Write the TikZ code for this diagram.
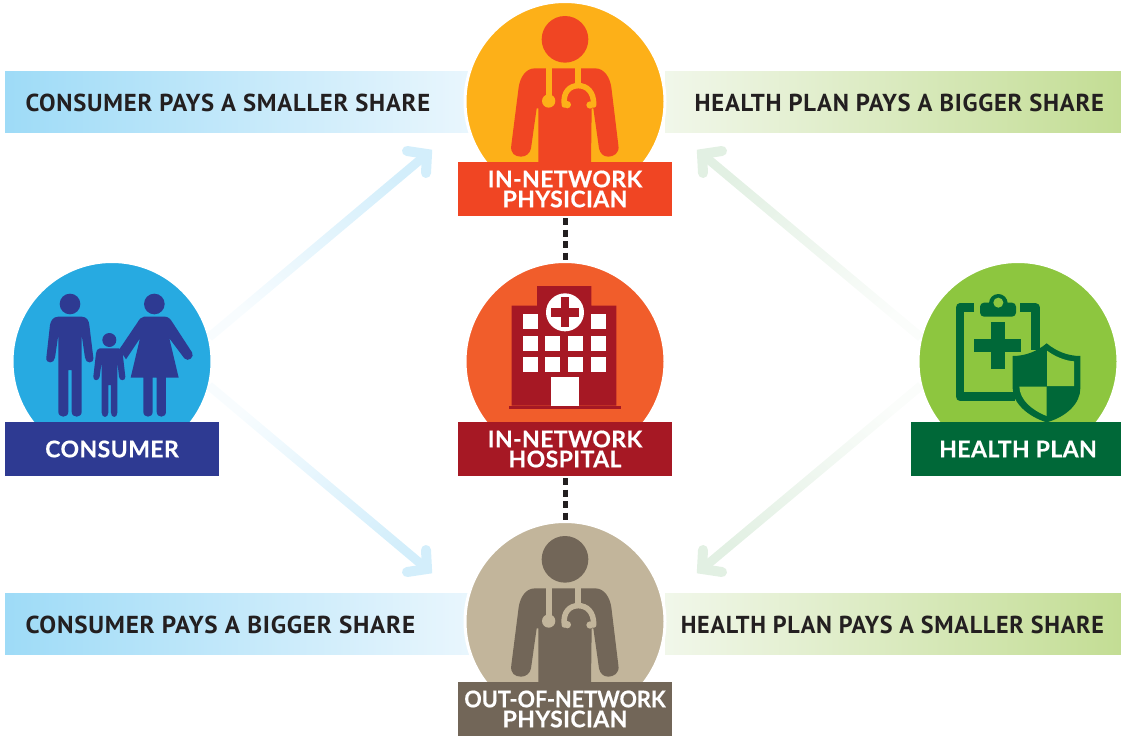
\documentclass[tikz,border=0pt]{standalone}
\usepackage{fontspec}
\usepackage{tikz}
\usetikzlibrary{fadings}
\newfontfamily\labelfont[LetterSpace=1.8,BoldFeatures={FakeBold=0.4}]{Lato}
\newfontfamily\tightfont[BoldFeatures={FakeBold=0.4}]{Lato}
\newfontfamily\barfont[LetterSpace=3]{PT Sans}
\definecolor{blueL}{HTML}{9EDBF7}
\definecolor{blueR}{HTML}{E9F6FD}
\definecolor{greenL}{HTML}{F1F7EA}
\definecolor{greenR}{HTML}{C3DD94}
\definecolor{arrowBlue}{HTML}{D3EEFB}
\definecolor{arrowGreen}{HTML}{E2F0E3}
\definecolor{barText}{HTML}{231F20}
\definecolor{physBg}{HTML}{FDB018}
\definecolor{physFg}{HTML}{F04523}
\definecolor{hospBg}{HTML}{F15D2B}
\definecolor{hospFg}{HTML}{A61824}
\definecolor{outBg}{HTML}{C2B59B}
\definecolor{outFg}{HTML}{726658}
\definecolor{consBg}{HTML}{27AAE1}
\definecolor{consFg}{HTML}{2E3A92}
\definecolor{planBg}{HTML}{8DC63F}
\definecolor{planFg}{HTML}{006838}
\tikzfading[name=fadeUL,top color=transparent!85,bottom color=transparent!0,shading angle=135]
\tikzfading[name=fadeLL,top color=transparent!85,bottom color=transparent!0,shading angle=45]
\tikzfading[name=fadeUR,top color=transparent!85,bottom color=transparent!0,shading angle=225]
\tikzfading[name=fadeLR,top color=transparent!85,bottom color=transparent!0,shading angle=315]
\tikzset{
  x=1pt,y=-1pt,
  disc/.style={circle,draw=white,line width=3pt,minimum size=200pt,inner sep=0pt,outer sep=0pt},
  tag/.style={rectangle,minimum height=54pt,inner sep=0pt,outer sep=0pt,text=white,align=center,
    font=\labelfont\bfseries\fontsize{23}{20}\selectfont},
  bar/.style={rectangle,minimum height=61.6pt,inner sep=0pt,outer sep=0pt},
  bartext/.style={inner sep=0pt,outer sep=0pt,text=barText,font=\barfont\bfseries\fontsize{24.5}{26}\selectfont},
  shaft/.style={line width=9pt},
  head/.style={line width=10pt,line cap=round,miter limit=10},
  dots/.style={line width=5pt,color=barText,dash pattern=on 7pt off 4.5pt,shorten <=2pt},
}
\newcommand{\doctorIcon}[2]{%
  \fill[#1] (345,118) circle (70);
  \fill[#1] (255,205) -- (435,205) .. controls (465,205) and (480,235) .. (484,262)
    -- (505,435) .. controls (510,460) and (490,470) .. (475,470)
    .. controls (460,470) and (450,460) .. (447,445) -- (430,325) -- (425,325) -- (423,490)
    -- (265,490) -- (265,325) -- (260,325) -- (243,445)
    .. controls (240,460) and (228,470) .. (213,470)
    .. controls (195,470) and (180,460) .. (184,435) -- (206,262)
    .. controls (210,235) and (225,205) .. (255,205) -- cycle;
  \fill[#2] (288,205) rectangle (305,290);
  \fill[#2] (296,303) circle (20);
  \fill[#2] (376,205) rectangle (393,255);
  \draw[#2,line width=5.5pt,line cap=round]
    (343,315) .. controls (338,275) and (360,257) .. (385,257)
    .. controls (410,257) and (432,275) .. (431,315);
  \fill[#2] (352,314) circle (11);
  \fill[#2] (420,315) circle (11);
}
\begin{document}
\begin{tikzpicture}
\useasboundingbox (0,0) rectangle (1121,736);
% bars
\node[bar,anchor=north west,minimum width=465pt,left color=blueL,right color=blueR] (barA) at (5,71) {};
\node[bar,anchor=north west,minimum width=456pt,left color=greenL,right color=greenR] (barB) at (665,71) {};
\node[bar,anchor=north west,minimum width=465pt,left color=blueL,right color=blueR] (barC) at (5,593) {};
\node[bar,anchor=north west,minimum width=456pt,left color=greenL,right color=greenR] (barD) at (665,593) {};
\node[bartext,anchor=west] (tA) at (25.5,102.5) {\scalebox{1.007}[1]{CONSUMER PAYS A SMALLER SHARE}};
\node[bartext,anchor=east] (tB) at (1104,102.5) {\scalebox{1.005}[1]{HEALTH PLAN PAYS A BIGGER SHARE}};
\node[bartext,anchor=west] (tC) at (25.5,624.5) {\scalebox{1.026}[1]{CONSUMER PAYS A BIGGER SHARE}};
\node[bartext,anchor=east] (tD) at (1104,624.5) {\scalebox{0.986}[1]{HEALTH PLAN PAYS A SMALLER SHARE}};
% discs
\node[disc,fill=physBg] (phys) at (565,101.5) {};
\node[disc,fill=hospBg] (hosp) at (565,361.5) {};
\node[disc,fill=outBg] (out) at (565,621.5) {};
\node[disc,fill=consBg] (cons) at (112,361.5) {};
\node[disc,fill=planBg] (plan) at (1018,361.5) {};
% arrows
\coordinate (c1) at (427,154); \coordinate (a1) at (407,151); \coordinate (b1) at (426,173);
\coordinate (c2) at (427,569); \coordinate (a2) at (407,572); \coordinate (b2) at (426,550);
\coordinate (c3) at (702,154); \coordinate (a3) at (722,151); \coordinate (b3) at (703,173);
\coordinate (c4) at (702,569); \coordinate (a4) at (722,572); \coordinate (b4) at (703,550);
\draw[shaft,arrowBlue,path fading=fadeUL] (cons.14) -- (c1);
\draw[shaft,arrowBlue,path fading=fadeLL] (cons.-14) -- (c2);
\draw[shaft,arrowGreen,path fading=fadeUR] (plan.166) -- (c3);
\draw[shaft,arrowGreen,path fading=fadeLR] (plan.194) -- (c4);
\draw[head,arrowBlue] (a1) -- (c1) -- (b1);
\draw[head,arrowBlue] (a2) -- (c2) -- (b2);
\draw[head,arrowGreen] (a3) -- (c3) -- (b3);
\draw[head,arrowGreen] (a4) -- (c4) -- (b4);
% doctors
\begin{scope}[shift={(450,0)},scale=1/3]\doctorIcon{physFg}{physBg}\end{scope}
\begin{scope}[shift={(450,520)},scale=1/3]\doctorIcon{outFg}{outBg}\end{scope}
% hospital
\begin{scope}[shift={(450,260)},scale=1/3]
  \fill[hospFg] (177,437) rectangle (512,447);
  \fill[hospFg] (185,437) -- (185,137) -- (261,137) -- (261,78) -- (424,78) -- (424,137) -- (499,137) -- (499,437) -- cycle;
  \fill[white] (345,157) circle (57);
  \fill[hospFg] (302,143) rectangle (388,170);
  \fill[hospFg] (332,112) rectangle (358,200);
  \foreach \x in {219,423} \fill[white] (\x,162) rectangle +(45,45);
  \foreach \x in {219,285,354,423} {
    \fill[white] (\x,228) rectangle +(45,45);
    \fill[white] (\x,291) rectangle +(45,45);
  }
  \fill[white] (303,351) rectangle (387,437);
\end{scope}
% family
\begin{scope}[shift={(0,260)},scale=1/3]
  \fill[consFg] (210,132) circle (31);
  \fill[consFg] (175,170) -- (245,170) .. controls (260,170) and (267,182) .. (268,195)
    -- (280,293) .. controls (282,312) and (257,312) .. (255,293) -- (245,225)
    -- (245,455) .. controls (245,475) and (215,475) .. (215,455) -- (215,330) -- (205,330)
    -- (205,455) .. controls (205,475) and (175,475) .. (175,455) -- (175,225)
    -- (165,293) .. controls (163,312) and (137,312) .. (139,293) -- (150,195)
    .. controls (152,182) and (160,170) .. (175,170) -- cycle;
  \fill[consFg] (328,240) circle (21);
  \fill[consFg] (300,265) -- (356,265) .. controls (364,265) and (367,272) .. (368,280)
    -- (376,350) .. controls (377,364) and (358,364) .. (357,350) -- (352,305)
    -- (352,458) .. controls (352,475) and (333,475) .. (333,458) -- (333,375) -- (325,375)
    -- (325,458) .. controls (325,475) and (305,475) .. (305,458) -- (305,305)
    -- (299,350) .. controls (297,364) and (279,364) .. (280,350) -- (288,280)
    .. controls (289,272) and (292,265) .. (300,265) -- cycle;
  \fill[consFg] (463,132) circle (31);
  \fill[consFg] (432,170) -- (495,170) .. controls (505,170) and (512,178) .. (518,188)
    -- (576,277) .. controls (585,290) and (565,308) .. (553,295) -- (508,235)
    -- (536,353) -- (498,353) -- (498,455) .. controls (498,475) and (470,475) .. (470,455)
    -- (470,353) -- (458,353) -- (458,455) .. controls (458,475) and (430,475) .. (430,455)
    -- (430,353) -- (392,353) -- (420,235) -- (378,298) -- (358,268) -- (412,188)
    .. controls (418,178) and (424,170) .. (432,170) -- cycle;
\end{scope}
% health plan icon
\begin{scope}[shift={(900,260)},scale=1/3]
  \draw[planFg,line width=8.7pt,line join=round] (222,143) -- (180,143) -- (180,409) -- (345,409);
  \draw[planFg,line width=8.7pt,line join=round] (360,143) -- (407,143) -- (407,270);
  \fill[planFg] (295,130) circle (28);
  \fill[planFg,rounded corners=4pt] (240,128) -- (348,128) -- (348,170) -- (240,170) -- cycle;
  \fill[planBg] (295,128) circle (15);
  \fill[planFg] (223,237) rectangle (364,276);
  \fill[planFg] (274,186) rectangle (314,326);
  \fill[planFg] (440,250) .. controls (470,275) and (505,288) .. (541,288) -- (541,385)
    .. controls (541,430) and (500,470) .. (440,487) .. controls (385,470) and (338,430) .. (338,385)
    -- (338,288) .. controls (375,288) and (410,275) .. (440,250) -- cycle;
  \fill[planBg] (441,272) .. controls (465,290) and (495,302) .. (522,304) -- (522,378) -- (441,378) -- cycle;
  \fill[planBg] (358,380) -- (440,380) -- (440,468) .. controls (395,450) and (360,420) .. (358,380) -- cycle;
\end{scope}
% tags
\node[tag,fill=physFg,minimum width=214pt] (tagPhys) at (565,189) {IN-NETWORK\\PHYSICIAN};
\node[tag,fill=hospFg,minimum width=214pt] (tagHosp) at (565,449) {IN-NETWORK\\HOSPITAL};
\node[tag,fill=outFg,minimum width=214pt] (tagOut) at (565,709) {\scalebox{0.94}[1]{\tightfont\bfseries OUT-OF-NETWORK}\\PHYSICIAN};
\node[tag,fill=consFg,minimum width=214pt] (tagCons) at (112,449) {CONSUMER};
\node[tag,fill=planFg,minimum width=210pt] (tagPlan) at (1016,449) {\hspace{4pt}HEALTH PLAN};
% dotted links
\draw[dots] (tagPhys) -- (hosp);
\draw[dots] (tagHosp) -- (out);
\end{tikzpicture}
\end{document}
